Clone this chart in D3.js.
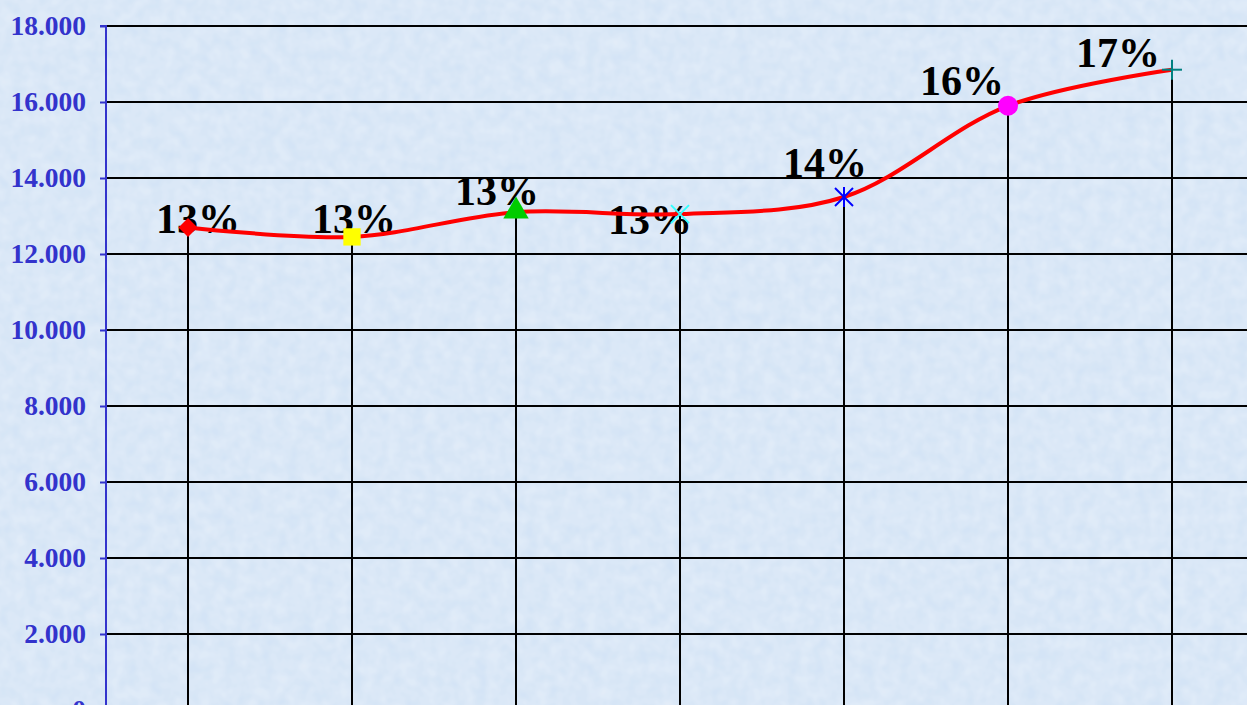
<!DOCTYPE html>
<html><head><meta charset="utf-8">
<script src="https://cdn.jsdelivr.net/npm/d3@7/dist/d3.min.js"></script>
<style>
html,body{margin:0;padding:0;overflow:hidden;background:#dbe7f6;}
svg{display:block;}
</style></head>
<body>
<svg id="chart" width="1247" height="705"></svg>
<script>
const categories = ["1","2","3","4","5","6","7"];
const values = [12700, 12450, 13100, 13050, 13500, 15900, 16850];
const pctLabels = ["13%","13%","13%","13%","14%","16%","17%"];
const yTicks = [0, 2000, 4000, 6000, 8000, 10000, 12000, 14000, 16000, 18000];
const markerTypes = ["diamond","square","triangle","x","asterisk","circle","plus"];
const markerColors = ["#ff0000","#ffff00","#00cc00","#33ffff","#0000ff","#ff00ff","#008080"];
const labelOffsets = [[10,6],[2,-4],[-19,-7],[-30,20],[-19,-20],[-46,-11],[-54,-3]];

(function(){
const svg = d3.select("#chart");
const W = 1247, H = 705;
const mLeft = 106, mRight = 1254, mTop = 26, mBottom = 710;

const defs = svg.append("defs");
const f = defs.append("filter").attr("id","tex").attr("x",0).attr("y",0).attr("width","100%").attr("height","100%");
f.append("feTurbulence").attr("type","fractalNoise").attr("baseFrequency","0.08").attr("numOctaves",2).attr("seed",3).attr("result","n");
f.append("feColorMatrix").attr("in","n").attr("type","matrix")
 .attr("values","0 0 0 0 1  0 0 0 0 1  0 0 0 0 1  0.6 0 0 0 -0.1").attr("result","w");
f.append("feComposite").attr("in","w").attr("in2","SourceGraphic").attr("operator","over");
svg.append("rect").attr("width",W).attr("height",H).attr("fill","#d4e4f6");
svg.append("rect").attr("width",W).attr("height",H).attr("fill","#d4e4f6").attr("filter","url(#tex)").attr("opacity",0.7);

const x = d3.scaleBand().domain(categories).range([mLeft, mRight]);
const y = d3.scaleLinear().domain([0, 18000]).range([mBottom, mTop]);
const cx = d => x(d) + x.bandwidth()/2;

svg.append("g").selectAll("line").data(yTicks).join("line")
  .attr("x1", mLeft).attr("x2", W).attr("y1", d=>y(d)).attr("y2", d=>y(d))
  .attr("stroke","#000").attr("stroke-width",1.8);

svg.append("g").selectAll("line").data(categories).join("line")
  .attr("x1", d=>cx(d)).attr("x2", d=>cx(d))
  .attr("y1", (d,i)=>y(values[i])).attr("y2", H)
  .attr("stroke","#000").attr("stroke-width",2);

const yAxis = d3.axisLeft(y).tickValues(yTicks).tickSize(6).tickPadding(14)
  .tickFormat(d => d===0 ? "0" : d3.format(",")(d).replace(",", "."));
const ga = svg.append("g").attr("transform",`translate(${mLeft},0)`).call(yAxis);
ga.select(".domain").attr("stroke","#3333cc").attr("stroke-width",2).attr("d",`M-6,${mTop}H0V${H}`);
ga.selectAll(".tick line").attr("stroke","#3333cc").attr("stroke-width",2);
ga.selectAll(".tick text").attr("fill","#3333cc")
  .style("font-family","'Liberation Serif','Times New Roman',serif")
  .style("font-weight","bold").style("font-size","27.5px");

// labels (drawn beneath line and markers, as in the reference)
svg.append("g").selectAll("text").data(values).join("text")
  .attr("x",(d,i)=>cx(categories[i]) + labelOffsets[i][0])
  .attr("y",(d,i)=>y(d) + labelOffsets[i][1])
  .attr("text-anchor","middle")
  .style("font-family","'Liberation Serif','Times New Roman',serif")
  .style("font-weight","bold").style("font-size","42px").attr("fill","#000")
  .text((d,i)=>pctLabels[i]);

const line = d3.line().x((d,i)=>cx(categories[i])).y(d=>y(d)).curve(d3.curveCatmullRom.alpha(0.5));
svg.append("path").datum(values).attr("d", line)
  .attr("fill","none").attr("stroke","#ff0000").attr("stroke-width",4);

const symMap = {square:d3.symbolSquare, triangle:d3.symbolTriangle, circle:d3.symbolCircle};
const mg = svg.append("g");
values.forEach((v,i)=>{
  const px = cx(categories[i]), py = y(v), t = markerTypes[i], c = markerColors[i];
  const g = mg.append("g").attr("transform",`translate(${px},${py})`);
  if (t==="diamond") {
    g.append("path").attr("d","M0,-9.5L9.5,0L0,9.5L-9.5,0Z").attr("fill",c);
  } else if (symMap[t]) {
    const size = t==="square"?300 : t==="triangle"?280 : 314;
    g.append("path").attr("d", d3.symbol().type(symMap[t]).size(size)()).attr("fill",c)
      .attr("transform", t==="triangle" ? "translate(0,-1)" : null);
  } else {
    const s = 9, lines = [];
    if (t==="x" || t==="asterisk") lines.push([-s,-s,s,s],[-s,s,s,-s]);
    if (t==="plus" || t==="asterisk") lines.push([0,-s-1,0,s+1]);
    if (t==="plus") lines.push([-s-1,0,s+1,0]);
    g.selectAll("line").data(lines).join("line")
      .attr("x1",d=>d[0]).attr("y1",d=>d[1]).attr("x2",d=>d[2]).attr("y2",d=>d[3])
      .attr("stroke",c).attr("stroke-width",2);
  }
});
})();
</script>
</body></html>
